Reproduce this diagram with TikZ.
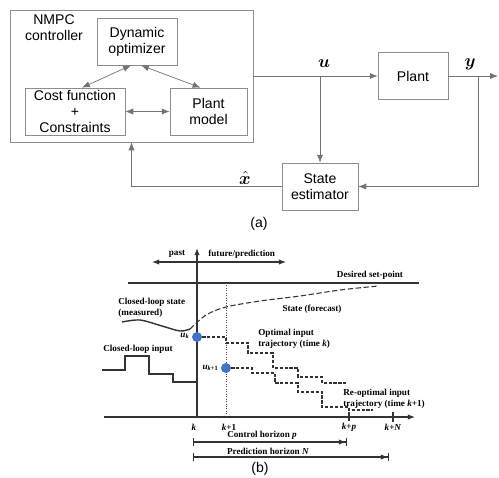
\documentclass[tikz,border=0pt]{standalone}
\usepackage{fontspec}
\usepackage{amsmath,bm}
\setmainfont{Liberation Sans}
\newfontfamily\plotfont{Liberation Serif}
\usetikzlibrary{arrows.meta}
\definecolor{dotblue}{RGB}{68,114,196}
\newcommand{\vr}[1]{\textit{#1}}

\begin{document}
\begin{tikzpicture}[x=0.02cm, y=-0.02cm,
	block/.style = {draw=black!45, minimum height=0.94cm, align=center, inner sep=0pt, font=\fontsize{8}{9}\selectfont},
	link/.style = {draw=black!55, -{Latex[length=4.5pt,width=3.5pt]}},
	dlink/.style = {draw=black!55, {Latex[length=4.5pt,width=3.5pt]}-{Latex[length=4.5pt,width=3.5pt]}},
	lbl/.style = {inner sep=0pt, align=left, font=\plotfont\bfseries\fontsize{5.2}{6.2}\selectfont},
	axis/.style = {draw=black!80, semithick},
	traj/.style = {draw=black!80, semithick, dash pattern=on 1.8pt off 1pt},
	dot/.style = {circle, fill=dotblue, minimum size=0.2cm, inner sep=0pt}]
			\useasboundingbox (0,0) rectangle (499,477);
			
			\node[block, minimum width=4.86cm, minimum height=2.64cm] (nmpc) at (131.5,76) {};
			\node[align=center, inner sep=0pt, font=\fontsize{8}{9}\selectfont] (nmpclbl) at (54,28) {NMPC\\controller};
			\node[block, minimum width=1.6cm] (opt) at (137,41.5) {Dynamic\\optimizer};
			\node[block, minimum width=2cm] (cost) at (75,111.5) {Cost function\\+\\Constraints};
			\node[block, minimum width=1.54cm] (model) at (208.5,111.5) {Plant\\model};
			\node[block, minimum width=1.4cm] (plant) at (413,76) {Plant};
			\node[block, minimum width=1.52cm] (est) at (320,186.5) {State\\estimator};
			\coordinate (ubranch) at (320,76);
			\coordinate (ybranch) at (478,76);
			\coordinate (yout) at (498,76);
			
			\draw[dlink] ([xshift=-0.12cm]opt.south) -- ([xshift=0.14cm]cost.north);
			\draw[dlink] ([xshift=0.08cm]opt.south) -- ([xshift=-0.16cm]model.north);
			\draw[dlink] (cost.east) -- (model.west);
			\draw[link] (nmpc.east) -- (plant.west);
			\draw[link] (ubranch) -- (est.north);
			\draw[link] (plant.east) -- (yout);
			\draw[link] (ybranch) |- (est.east);
			\draw[link] (est.west) -| (nmpc.south);
			\node (ulbl) at (324,64) {$\bm{u}$};
			\node (ylbl) at (470,64) {$\bm{y}$};
			\node (xlbl) at (245,178) {$\hat{\bm{x}}$};
			\node[font=\fontsize{8}{9}\selectfont] (alabel) at (259,224) {(a)};
			
			\draw[axis, -{Latex[length=4pt,width=3pt]}] (104,417) -- (415,417);
			\draw[axis, -{Latex[length=4pt,width=3pt]}] (197,417) -- (197,248);
			\draw[axis, -{Latex[length=4pt,width=3pt]}] (197,262) -- (152,262);
			\draw[axis, -{Latex[length=4pt,width=3pt]}] (197,262) -- (286,262);
			\draw[draw=black!80, thick] (128,283) -- (419,283);
			\draw[draw=black!70, densely dotted] (226,283) -- (226,417);
			\draw[axis] (349,412) -- (349,421);
			\draw[axis] (393,412) -- (393,422);
			
			\draw[axis, thick] plot[smooth] coordinates {(122,322) (140,320) (162,326) (180,331) (190,329)};
			\draw[traj, dash pattern=on 3pt off 1.5pt] plot[smooth] coordinates {(190,329) (206,315) (226,307) (260,301) (300,296) (340,290) (378,286)};
			\draw[axis] (102,370) -| (125,356) -| (149,374) -| (173,382) -- (197,382);
			
			\node[dot] (uk) at (197,337) {};
			\node[dot] (uk1) at (226,368) {};
			\draw[traj] (uk.east) -| (226,343) -| (248,353) -| (273,368) -| (298,377) -| (322,383) -- (347,383);
			\draw[traj] (uk1.east) -| (252,373) -| (275,383) -| (298,392) -| (322,407) -| (349,410) -- (373,410);
			
			\draw[axis, {Bar[width=5pt]}-{Latex[length=4pt,width=3pt] Bar[width=5pt]}] (193,442) -- (347,442);
			\draw[axis, {Bar[width=5pt]}-{Latex[length=4pt,width=3pt] Bar[width=5pt]}] (193,457) -- (389,457);
			
			\node[lbl] (past) at (177,254) {past};
			\node[lbl, anchor=west] (future) at (208,254) {future/prediction};
			\node[lbl] (setpoint) at (370,275) {Desired set-point};
			\node[lbl, anchor=north west] (cls) at (118,298) {Closed-loop state\\(measured)};
			\node[lbl] (forecast) at (312,309) {State (forecast)};
			\node[lbl, anchor=west] (cli) at (103,349) {Closed-loop input};
			\node[lbl, anchor=north west] (opttraj) at (258,329) {Optimal input\\trajectory (time \vr{k})};
			\node[lbl, anchor=north west] (reopt) at (343,389) {Re-optimal input\\trajectory (time \vr{k}+1)};
			\node[lbl, anchor=east] (uklbl) at (190,336) {\vr{u}\textsubscript{\vr{k}}};
			\node[lbl, anchor=east] (uk1lbl) at (219,368) {\vr{u}\textsubscript{\vr{k}+1}};
			\node[lbl] (tk) at (194,427) {\vr{k}};
			\node[lbl] (tk1) at (229,427) {\vr{k}+1};
			\node[lbl] (tkp) at (349,427) {\vr{k}+\vr{p}};
			\node[lbl] (tkn) at (393,427) {\vr{k}+\vr{N}};
			\node[lbl] (ctrl) at (262,435) {Control horizon \vr{p}};
			\node[lbl] (pred) at (268,451) {Prediction horizon \vr{N}};
			\node[font=\fontsize{8}{9}\selectfont] (blabel) at (260,469) {(b)};
			
			\end{tikzpicture}
\end{document}
